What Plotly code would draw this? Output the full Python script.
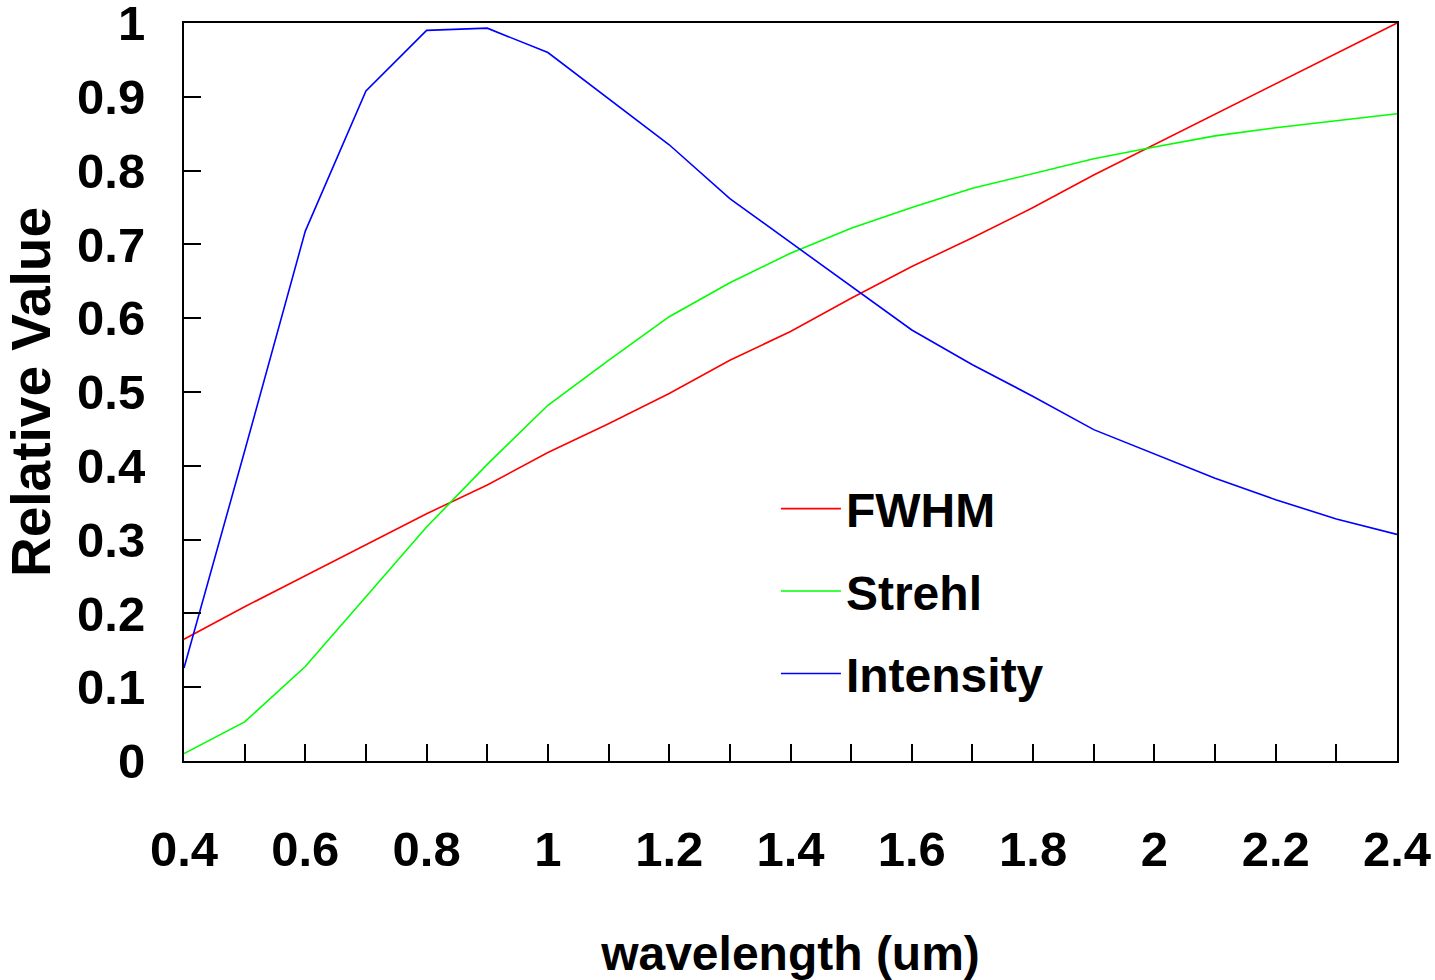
import plotly.graph_objects as go

wavelength = [0.4, 0.5, 0.6, 0.7, 0.8, 0.9, 1.0, 1.1, 1.2, 1.3, 1.4,
              1.5, 1.6, 1.7, 1.8, 1.9, 2.0, 2.1, 2.2, 2.3, 2.4]
fwhm = [0.165, 0.209, 0.251, 0.293, 0.335, 0.374, 0.418, 0.457, 0.498, 0.543, 0.582,
        0.627, 0.670, 0.709, 0.750, 0.794, 0.835, 0.876, 0.917, 0.959, 1.0]
strehl = [0.01, 0.053, 0.128, 0.223, 0.317, 0.402, 0.482, 0.543, 0.602, 0.648, 0.688,
          0.722, 0.750, 0.776, 0.796, 0.816, 0.832, 0.847, 0.858, 0.868, 0.877]
intensity = [0.126, 0.42, 0.718, 0.908, 0.990, 0.993, 0.960, 0.897, 0.835, 0.762, 0.703,
             0.643, 0.584, 0.537, 0.494, 0.449, 0.416, 0.383, 0.354, 0.328, 0.307]

series_names = ["FWHM", "Strehl", "Intensity"]
series_colors = ["#ff0000", "#00ff00", "#0000ff"]

y_ticks = [0, 0.1, 0.2, 0.3, 0.4, 0.5, 0.6, 0.7, 0.8, 0.9, 1]
y_tick_text = ["0", "0.1", "0.2", "0.3", "0.4", "0.5", "0.6", "0.7", "0.8", "0.9", "1"]

FONT = "Liberation Sans, Arial, Helvetica, sans-serif"

fig = go.Figure()
for name, vals, col in zip(series_names, [fwhm, strehl, intensity], series_colors):
    fig.add_trace(go.Scatter(x=wavelength, y=vals, mode="lines", name=name,
                             legendgroup=name,
                             line=dict(color=col, width=1.6)))

axis_common = dict(
    showgrid=False, zeroline=False, showline=True, linecolor="black", linewidth=2,
    mirror=True, ticks="inside", ticklen=17, tickwidth=2, tickcolor="black",
    automargin=False, ticklabeloverflow="allow",
    tickfont=dict(family=FONT, size=49, color="black", weight="bold"),
)

fig.update_xaxes(range=[0.4, 2.4], dtick=0.2, tick0=0.4,
                 minor=dict(dtick=0.1, ticks="inside", ticklen=17, tickwidth=2, tickcolor="black"),
                 ticklabelstandoff=44,
                 title=dict(text="wavelength (um)", standoff=64,
                            font=dict(family=FONT, size=48, color="black", weight="bold")),
                 **axis_common)
fig.update_yaxes(range=[0, 1], tickmode="array", tickvals=y_ticks, ticktext=y_tick_text,
                 ticklabelstandoff=27,
                 title=dict(text="Relative Value", standoff=24,
                            font=dict(family=FONT, size=55, color="black", weight="bold")),
                 **axis_common)

fig.update_layout(
    width=1435, height=980,
    margin=dict(l=184, r=38, t=23, b=219),
    plot_bgcolor="white", paper_bgcolor="white",
    showlegend=True,
    legend=dict(x=0.488, y=0.393, xanchor="left", yanchor="top", itemwidth=60,
                bgcolor="rgba(0,0,0,0)", traceorder="grouped", tracegroupgap=17,
                font=dict(family=FONT, size=48, color="black", weight="bold")),
)

fig.write_html("out.html")
